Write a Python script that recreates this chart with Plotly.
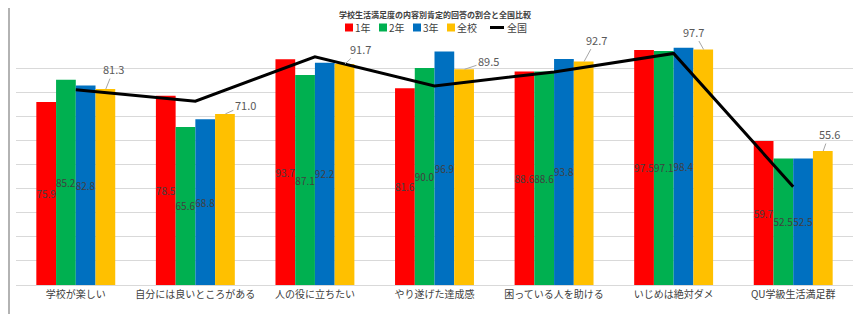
import plotly.graph_objects as go

categories = ["学校が楽しい", "自分には良いところがある", "人の役に立ちたい", "やり遂げた達成感",
              "困っている人を助ける", "いじめは絶対ダメ", "QU学級生活満足群"]
grade1 = [75.9, 78.5, 93.7, 81.6, 88.6, 97.5, 59.7]
grade2 = [85.2, 65.6, 87.1, 90.0, 88.6, 97.1, 52.5]
grade3 = [82.8, 68.8, 92.2, 96.9, 93.8, 98.4, 52.5]
school = [81.3, 71.0, 91.7, 89.5, 92.7, 97.7, 55.6]
national = [81.0, 76.3, 94.7, 82.6, 88.4, 96.1, 40.8]
series_names = ["1年", "2年", "3年", "全校", "全国"]
title_text = "学校生活満足度の内容別肯定的回答の割合と全国比較"

# styling
colors = ["#FF0000", "#00B050", "#0070C0", "#FFC000"]
label_offsets = [(8, -20), (20, -9), (16, -15), (24, -8), (12, -22), (-10, -18), (6, -17)]
FONT = "Noto Sans CJK JP"

OFF = 8
PLOT_L, PLOT_R, PLOT_T, PLOT_B = 16, 853, 44, 285
W_FIG, H_FIG = 865, 314
W_PLOT = float(PLOT_R - PLOT_L)
H_PLOT = float(PLOT_B - PLOT_T)
def px_x(p):
    return (p - PLOT_L) / W_PLOT
def px_y(p):
    return (PLOT_B - p) / H_PLOT

fig = go.Figure()
for name, vals, col in zip(series_names[:3], [grade1, grade2, grade3], colors[:3]):
    fig.add_trace(go.Bar(
        x=categories, y=vals, name=name, marker=dict(color=col, line=dict(width=0)),
        text=[f"{v:.1f}" for v in vals], textposition="inside", insidetextanchor="middle",
        textangle=0, constraintext="none", cliponaxis=False,
        textfont=dict(size=10, color="#404040", family=FONT),
    ))
fig.add_trace(go.Bar(
    x=categories, y=school, name=series_names[3], marker=dict(color=colors[3], line=dict(width=0)),
))
fig.add_trace(go.Scatter(
    x=categories, y=national, name=series_names[4], mode="lines",
    line=dict(color="black", width=3),
))

annotations = []
for cat, v, (dx, dy) in zip(categories, school, label_offsets):
    annotations.append(dict(
        x=cat, y=v, xref="x", yref="y", xshift=30, text=f"{v:.1f}",
        showarrow=True, arrowhead=0, arrowwidth=1, arrowcolor="#A6A6A6",
        ax=dx, ay=dy, standoff=0,
        font=dict(size=11, color="#595959", family=FONT),
    ))

# title (top edge)
annotations.append(dict(
    x=0.5, y=px_y(14), xref="paper", yref="paper", yanchor="middle", borderpad=0,
    text="<b>" + title_text + "</b>", showarrow=False,
    font=dict(size=8, color="#404040", family=FONT),
))

shapes = []
legend_x = [345, 379, 413, 447, 490]
legend_y = 27.5
for i, name in enumerate(series_names):
    x0 = legend_x[i]
    if i < 4:
        shapes.append(dict(type="rect", xref="paper", yref="paper",
                           x0=px_x(x0), x1=px_x(x0 + 8), y0=px_y(legend_y + 4), y1=px_y(legend_y - 4),
                           fillcolor=colors[i], line=dict(width=0)))
        tx = x0 + 9
    else:
        shapes.append(dict(type="line", xref="paper", yref="paper",
                           x0=px_x(x0), x1=px_x(x0 + 14), y0=px_y(legend_y), y1=px_y(legend_y),
                           line=dict(color="black", width=3)))
        tx = x0 + 16
    annotations.append(dict(
        x=px_x(tx), y=px_y(legend_y), xref="paper", yref="paper", xanchor="left", yanchor="middle",
        borderpad=0, text=name, showarrow=False, font=dict(size=10, color="#404040", family=FONT),
    ))

shapes += [
    dict(type="line", xref="paper", yref="paper", x0=px_x(9), x1=px_x(9), y0=px_y(330), y1=px_y(0),
         line=dict(color="#9a9a9a", width=1.5)),
    dict(type="line", xref="paper", yref="paper", x0=px_x(861), x1=px_x(861), y0=px_y(330), y1=px_y(0),
         line=dict(color="#9a9a9a", width=1.5)),
]

fig.update_layout(
    width=W_FIG, height=H_FIG,
    margin=dict(l=PLOT_L - OFF, r=W_FIG - (PLOT_R - OFF), t=PLOT_T - OFF, b=H_FIG - (PLOT_B - OFF),
                autoexpand=False),
    paper_bgcolor="white", plot_bgcolor="white",
    barmode="group", bargap=0.34, bargroupgap=0,
    font=dict(family=FONT, size=11, color="#404040"),
    showlegend=False,
    xaxis=dict(showline=True, linecolor="#D9D9D9", linewidth=1, ticks="", showgrid=False,
               automargin=False, tickfont=dict(size=10, color="#404040", family=FONT)),
    yaxis=dict(range=[0, 100], dtick=10, showticklabels=False, showgrid=True, automargin=False,
               gridcolor="#D9D9D9", gridwidth=1, zeroline=False, showline=False, ticks=""),
    annotations=annotations, shapes=shapes,
)

fig.write_html("out.html")
